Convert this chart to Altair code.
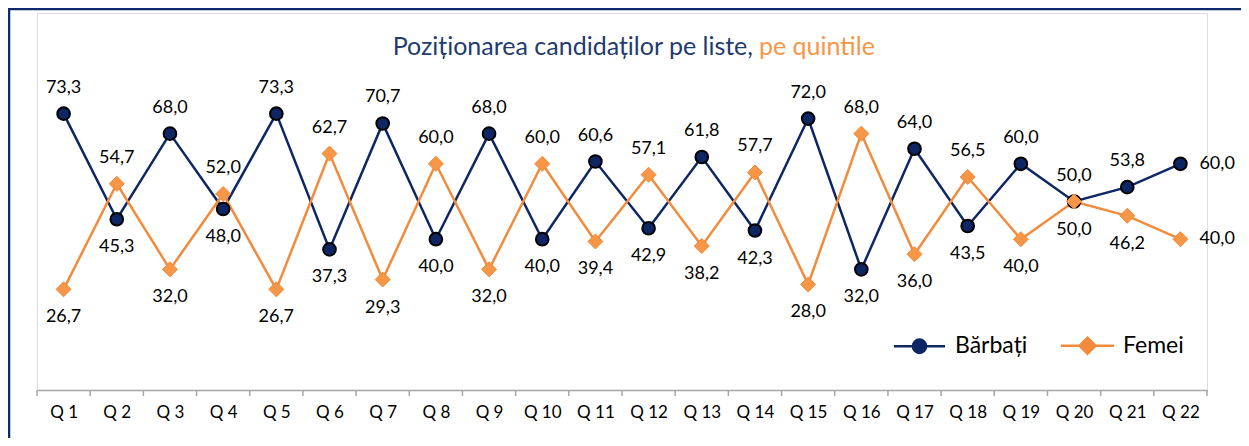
import altair as alt
import pandas as pd

categories = [f"Q {i}" for i in range(1, 23)]
series_names = ["Bărbați", "Femei"]
barbati = [73.3, 45.3, 68.0, 48.0, 73.3, 37.3, 70.7, 40.0, 68.0, 40.0, 60.6,
           42.9, 61.8, 42.3, 72.0, 32.0, 64.0, 43.5, 60.0, 50.0, 53.8, 60.0]
femei = [26.7, 54.7, 32.0, 52.0, 26.7, 62.7, 29.3, 60.0, 32.0, 60.0, 39.4,
         57.1, 38.2, 57.7, 28.0, 68.0, 36.0, 56.5, 40.0, 50.0, 46.2, 40.0]

NAVY = "#0E2764"
ORANGE = "#F79646"
ORANGE_LINE = "#F28B3B"
TITLE_NAVY = "#1F3B70"
AXIS_GREY = "#A6A6A6"
FONT = "Lato"

n = len(categories)
rows = []
for i, (b, f) in enumerate(zip(barbati, femei)):
    idx = i + 1
    for s, v, other in (("Bărbați", b, f), ("Femei", f, b)):
        if idx == n:
            pos = "right"
        elif v > other or (v == other and s == "Bărbați"):
            pos = "above"
        else:
            pos = "below"
        rows.append(dict(idx=idx, cat=categories[i], series=s, value=v, pos=pos,
                         label=f"{v:.1f}".replace(".", ",")))
df = pd.DataFrame(rows)
bounds = pd.DataFrame({"b": [k + 0.5 for k in range(0, n + 1)]})

W, H = 1170, 377

x_scale = alt.Scale(domain=[0.5, n + 0.5], nice=False, zero=False)
y_scale = alt.Scale(domain=[0, 100], nice=False)
color_scale = alt.Scale(domain=series_names, range=[NAVY, ORANGE_LINE])

x_enc = alt.X("idx:Q", scale=x_scale,
              axis=alt.Axis(values=list(range(1, n + 1)),
                            labelExpr="'Q ' + datum.value", title=None,
                            ticks=False, grid=False, domainColor=AXIS_GREY,
                            domainWidth=1.5, labelFont=FONT, labelFontSize=17,
                            labelColor="#000000", labelPadding=14,
                            labelFlush=False))
y_enc = alt.Y("value:Q", scale=y_scale, axis=None)

base = alt.Chart(df)
b_data = base.transform_filter(alt.datum.series == "Bărbați")
f_data = base.transform_filter(alt.datum.series == "Femei")

line_b = b_data.mark_line(strokeWidth=2.5, color=NAVY).encode(
    x=x_enc, y=y_enc, order=alt.Order("idx:Q"))
line_f = f_data.mark_line(strokeWidth=2.5, color=ORANGE_LINE).encode(
    x=x_enc, y=y_enc, order=alt.Order("idx:Q"))

pts_b = b_data.mark_point(
    shape="circle", size=160, filled=True, fill=NAVY, stroke="#000000",
    strokeWidth=2, opacity=1).encode(x=x_enc, y=y_enc)
pts_f = f_data.mark_point(
    shape="diamond", size=225, filled=True, fill=ORANGE, stroke="#F08A38",
    strokeWidth=1, opacity=1).encode(x=x_enc, y=y_enc)

lab_common = dict(font=FONT, fontSize=18, color="#000000", baseline="middle")
lab_above = base.transform_filter(alt.datum.pos == "above").mark_text(
    dy=-26, align="center", **lab_common).encode(x=x_enc, y=y_enc, text="label:N")
lab_below = base.transform_filter(alt.datum.pos == "below").mark_text(
    dy=28, align="center", **lab_common).encode(x=x_enc, y=y_enc, text="label:N")
lab_right = base.transform_filter(alt.datum.pos == "right").mark_text(
    dx=19, align="left", **lab_common).encode(x=x_enc, y=y_enc, text="label:N")

ticks = alt.Chart(bounds).mark_rule(color=AXIS_GREY, strokeWidth=1.5).encode(
    x=alt.X("b:Q", scale=x_scale), y=alt.value(H), y2=alt.value(H + 6))

circle_path = ("M-3.65,0L-0.95,0M0.95,0L3.65,0"
               "M-0.95,0A0.95,0.95,0,1,1,0.95,0A0.95,0.95,0,1,1,-0.95,0Z")
diamond_path = "M-3.8,0L-1.15,0M1.15,0L3.8,0M0,-1.15L1.15,0L0,1.15L-1.15,0Z"

legend_layer = base.transform_filter("false").mark_point(
    filled=True, opacity=1, strokeWidth=2.5).encode(
    x=x_enc, y=y_enc,
    color=alt.Color("series:N", scale=color_scale, title=None,
                    legend=alt.Legend(
                        orient="none", legendX=853, legendY=321,
                        direction="horizontal", title=None,
                        symbolSize=196, symbolOffset=18, labelOffset=24,
                        columnPadding=27, labelFont=FONT, labelFontSize=23,
                        labelColor="#000000", symbolStrokeWidth=2.5,
                        symbolOpacity=1)),
    stroke=alt.Stroke("series:N", scale=color_scale, title=None),
    shape=alt.Shape("series:N", title=None,
                    scale=alt.Scale(domain=series_names,
                                    range=[circle_path, diamond_path])),
)

title1 = alt.Chart(pd.DataFrame({"t": ["Poziționarea candidaților pe liste,"]})).mark_text(
    font=FONT, fontSize=25, color=TITLE_NAVY, align="right", baseline="middle"
).encode(text="t:N", x=alt.value(716), y=alt.value(34))
title2 = alt.Chart(pd.DataFrame({"t": ["pe quintile"]})).mark_text(
    font=FONT, fontSize=25, color=ORANGE, align="left", baseline="middle"
).encode(text="t:N", x=alt.value(722), y=alt.value(34))

border_left = alt.Chart(pd.DataFrame({"k": [0]})).mark_rule(
    color="#0E2A6B", strokeWidth=2.5).encode(
    x=alt.value(-28), y=alt.value(-4), y2=alt.value(430))
border_top = alt.Chart(pd.DataFrame({"k": [0]})).mark_rule(
    color="#0E2A6B", strokeWidth=2.5).encode(
    x=alt.value(-29), x2=alt.value(1210), y=alt.value(-4))

chart = alt.layer(
    border_left, border_top, ticks, line_b, line_f, pts_b, pts_f,
    lab_above, lab_below, lab_right, title1, title2, legend_layer,
).properties(
    width=W, height=H,
    autosize=alt.AutoSizeParams(type="none"),
    padding={"left": 29, "top": 5, "right": 34, "bottom": 48},
).configure_view(stroke=None).configure(background="white")

chart.save("out.html", embed_options={"renderer": "svg", "actions": False})
